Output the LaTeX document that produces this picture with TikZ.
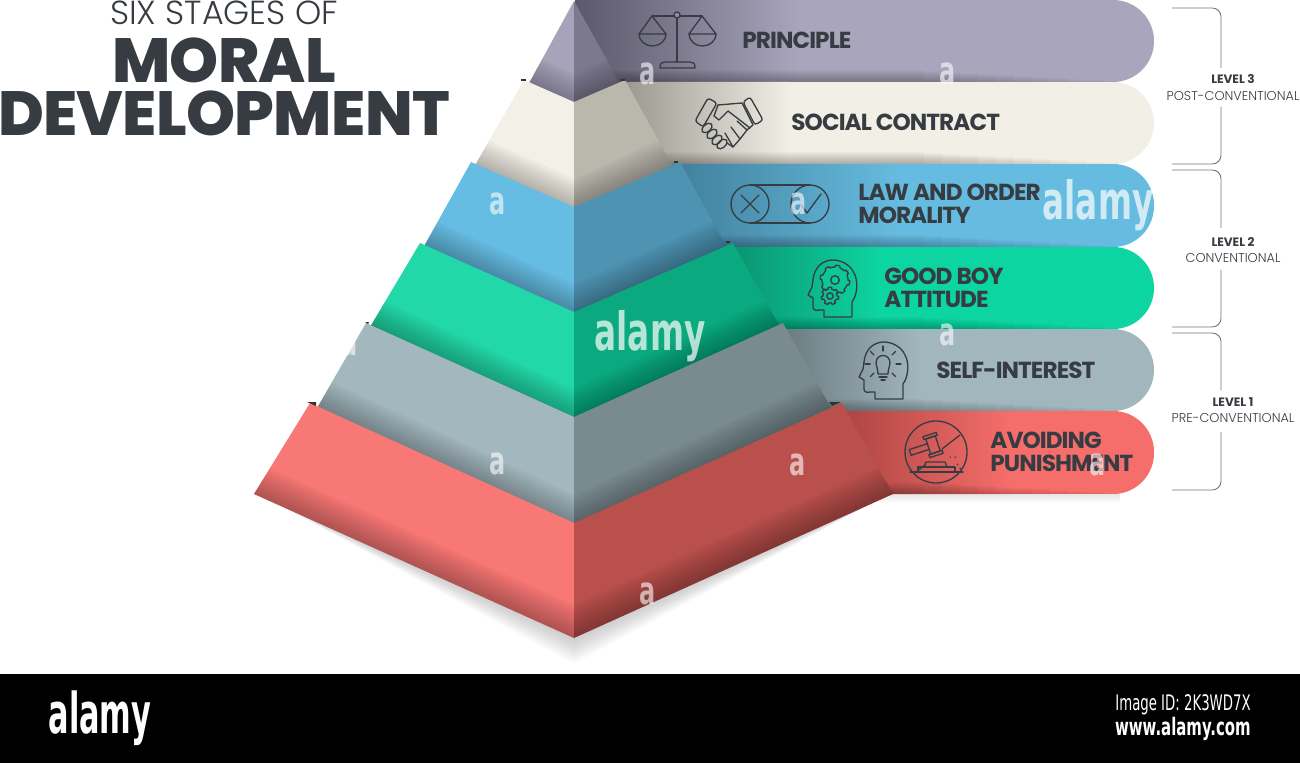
\documentclass[tikz,border=0pt]{standalone}
\usepackage{fontspec}
\usetikzlibrary{positioning}
\setmainfont{Poppins}
\newfontfamily\thinfont{Poppins}[UprightFont=* Light]
\newfontfamily\heavyfont{Poppins}[UprightFont=* ExtraBold, LetterSpace=-1]
\newfontfamily\stagefont{Poppins}[UprightFont=* Bold, LetterSpace=-4]
\newfontfamily\stampfont[FakeStretch=0.62]{DejaVu Sans}[BoldFont=* Bold]
\newfontfamily\logofont[FakeStretch=0.54]{DejaVu Sans}[BoldFont=* Bold]
\definecolor{ink}{HTML}{363C42}
\definecolor{purpleL}{HTML}{A6A3BA}
\definecolor{purpleR}{HTML}{7C798F}
\definecolor{purpleB}{HTML}{A9A5BD}
\definecolor{purpleD}{HTML}{5A586A}
\definecolor{creamL}{HTML}{F3F0E7}
\definecolor{creamR}{HTML}{BAB7AD}
\definecolor{creamB}{HTML}{F2EFE6}
\definecolor{creamD}{HTML}{8E8B82}
\definecolor{blueL}{HTML}{66BDE3}
\definecolor{blueR}{HTML}{4E93B2}
\definecolor{blueB}{HTML}{66BCE0}
\definecolor{blueD}{HTML}{3F7C98}
\definecolor{greenL}{HTML}{22D8A8}
\definecolor{greenR}{HTML}{0BA97F}
\definecolor{greenB}{HTML}{0DD5A1}
\definecolor{greenD}{HTML}{0A8F6C}
\definecolor{grayL}{HTML}{A3B7BE}
\definecolor{grayR}{HTML}{7A8B90}
\definecolor{grayB}{HTML}{A2B6BD}
\definecolor{grayD}{HTML}{66767B}
\definecolor{redL}{HTML}{F87876}
\definecolor{redR}{HTML}{B9504C}
\definecolor{redB}{HTML}{F56E6B}
\definecolor{redD}{HTML}{A8423F}
% one ribbon: start x, top, bottom, end of dark part, base colour, dark colour
\newcommand{\ribbon}[6]{
    \begin{scope}
    \clip (#1,#2) [rounded corners=23.3pt] -- (1154,#2) -- (1154,#3) [sharp corners] -- (#1,#3) -- cycle;
    \fill[#5] (#1,#2) rectangle (1154,#3);
    \shade[left color=#6, right color=#5] (#1,#2) rectangle (#4,#3);
    \foreach \k in {1,2,...,12} {
        \fill[black, opacity=.025] (#1,#3-\k) rectangle (1140-18*\k,#3);
    }
    \end{scope}
}
% one layer: left top x, left bottom x, right top x, right bottom x, top y, bottom y, centre top y, centre bottom y, colour
\newcommand{\pyrlayer}[9]{
    \fill[#9L] (#1,#5) -- (#2,#6+5) -- (574,#8+5) -- (574,#7) -- cycle;
    \fill[#9R] (#3,#5) -- (#4,#6+5) -- (574,#8+5) -- (574,#7) -- cycle;
    \begin{scope}
    \clip (#1,#5) -- (#2,#6+5) -- (574,#8+5) -- (#4,#6+5) -- (#3,#5) -- (574,#7) -- cycle;
    \foreach \k in {3,6,...,33} {
        \fill[black, opacity=.026] (#2,#6+5) -- (574,#8+5) -- (#4,#6+5) -- (#4,#6+5-\k) -- (574,#8+5-\k) -- (#2,#6+5-\k) -- cycle;
    }
    \end{scope}
}
% head outline of the two profile icons, from its top left corner
\newcommand{\headicon}[2]{
    \draw[icon, shift={(#1,#2)}] (44,57) -- (44,42) .. controls (50,34) and (50,20) .. (46,13) .. controls (42,4) and (32,0) .. (25,0) .. controls (14,0) and (6,8) .. (5,20) -- (4,27) -- (0,35) -- (5,38) -- (5,47) .. controls (5,50) and (8,51) .. (11,50) -- (16,50) -- (16,57) -- cycle;
}
% toothed wheel: x, y, radius, teeth, fill colour
\newcommand{\cogicon}[5]{
    \draw[icon, fill=#5, shift={(#1,#2)}] plot[domain=0:360, samples=97] (\x:{#3+1.8*(sin(#4*\x)>0)}) -- cycle;
}
% level bracket: top, end of upper part, start of lower part, bottom
\newcommand{\levelbracket}[4]{
    \draw[bracket] (1172,#1) -- (1221,#1) -- (1221,#2);
    \draw[bracket] (1221,#3) -- (1221,#4) -- (1172,#4);
}
\begin{document}
\begin{tikzpicture}[x=0.02cm, y=-0.02cm]
    % Define styles
    \tikzstyle{icon} = [draw=ink, line width=0.75pt, line join=round, line cap=round]
    \tikzstyle{bracket} = [draw=black!55, line width=0.5pt, rounded corners=5pt]
    \tikzstyle{stage} = [text=ink, font=\stagefont\fontsize{13.2}{13.4}\selectfont, align=left, inner sep=0pt]
    \tikzstyle{levelhead} = [text=ink, font=\bfseries\fontsize{6.9}{8}\selectfont, inner sep=0pt]
    \tikzstyle{levelname} = [text=ink, font=\thinfont\fontsize{7.3}{8}\selectfont, inner sep=0pt]
    \tikzstyle{stamp} = [text=white, text opacity=.6, font=\stampfont\bfseries\fontsize{22}{22}\selectfont, inner sep=0pt]
    \tikzstyle{stampbig} = [text=white, text opacity=.7, font=\stampfont\bfseries\fontsize{30}{30}\selectfont, inner sep=0pt]

    \useasboundingbox (0,0) rectangle (1300,763);

    % Title
    \node[text=ink, font=\thinfont\fontsize{19}{19}\selectfont, inner sep=0pt] (subtitle) at (224,13) {SIX STAGES OF};
    \node[text=ink, font=\heavyfont\fontsize{35.5}{35.5}\selectfont, inner sep=0pt] (moral) at (224,60) {MORAL};
    \node[text=ink, font=\heavyfont\fontsize{35.5}{35.5}\selectfont, inner sep=0pt] (development) at (224,113) {DEVELOPMENT};

    % Soft shadow under the pyramid
    \foreach \k in {2,4,...,26} {
        \fill[black, opacity=.016] (270,500) -- (574,638+\k) -- (878,500) -- cycle;
        \fill[black, opacity=.008] (880,490) rectangle (1120,494+\k/3);
    }

    % Right side - Ribbons
    \ribbon{575}{0}{82}{800}{purpleB}{purpleD}
    \ribbon{600}{82}{164}{790}{creamB}{creamD}
    \ribbon{660}{164}{247}{900}{blueB}{blueD}
    \ribbon{720}{247}{329}{880}{greenB}{greenD}
    \ribbon{770}{329}{411}{920}{grayB}{grayD}
    \ribbon{830}{411}{494}{1010}{redB}{redD}

    % Left side - Pyramid layers
    \pyrlayer{574}{528}{574}{621}{1}{80}{1}{102}{purple}
    \pyrlayer{524}{474}{625}{673}{80}{162}{102}{207}{cream}
    \pyrlayer{471}{423}{680}{727}{162}{243}{207}{312}{blue}
    \pyrlayer{420}{370}{733}{780}{243}{322}{312}{417}{green}
    \pyrlayer{366}{317}{783}{831}{323}{403}{417}{523}{gray}
    \pyrlayer{310}{254}{842}{893}{403}{489}{523}{633}{red}

    % Small dark corners
    \fill[black!80] (521,79) rectangle (526,81);
    \fill[black!80] (621,79) rectangle (625,81);
    \fill[black!80] (674,161) rectangle (678,163);
    \fill[black!80] (726,241) rectangle (730,243);
    \fill[black!80] (829,402) -- (841,402) -- (832,406) -- cycle;
    \fill[black!80] (307,402) -- (316,402) -- (316,406) -- cycle;
    \fill[black!80] (365,322) -- (369,322) -- (368,324) -- cycle;

    % Ribbon labels
    \node[stage, anchor=west] (principle) at (742,40) {PRINCIPLE};
    \node[stage, anchor=west] (contract) at (791,122) {SOCIAL CONTRACT};
    \node[stage, anchor=west] (law) at (858,204) {LAW AND ORDER\\MORALITY};
    \node[stage, anchor=west] (goodboy) at (884,288) {GOOD BOY\\ATTITUDE};
    \node[stage, anchor=west] (selfint) at (936,370) {SELF-INTEREST};
    \node[stage, anchor=west] (avoiding) at (990,452) {AVOIDING\\PUNISHMENT};

    % Scales
    \draw[icon] (652,16) -- (702,16) (677,18) -- (677,62);
    \draw[icon, fill=purpleB!70!purpleD] (677,15) circle (3);
    \draw[icon] (639,34) -- (652,16) -- (666,34) -- cycle;
    \draw[icon] (639,34) .. controls (640,50) and (665,50) .. (666,34);
    \draw[icon] (689,34) -- (702,16) -- (716,34) -- cycle;
    \draw[icon] (689,34) .. controls (690,50) and (715,50) .. (716,34);
    \draw[icon] (660,68) .. controls (660,63) and (662,62) .. (665,62) -- (690,62) .. controls (693,62) and (695,63) .. (695,68) -- cycle;

    % Handshake
    \draw[icon, rounded corners=1.5pt] (708,98) -- (717,103) -- (703,127) -- (695,121) -- cycle;
    \draw[icon, rounded corners=1.5pt] (750,97) -- (763,120) -- (755,125) -- (743,102) -- cycle;
    \draw[icon] (718,105) -- (742,103) -- (753,125) -- (747,130) -- (740,139) -- (733,147) -- (727,143);
    \draw[icon] (718,105) -- (714,116) -- (719,120) -- (728,111) -- (750,128);
    \draw[icon] (737,121) -- (747,130) (731,127) -- (740,139) (725,133) -- (733,147);
    \foreach \px/\py in {707/128,712/134,717/140,722/144} {
        \draw[icon, rotate around={40:(\px,\py)}] (\px,\py) ellipse (6 and 3.6);
    }

    % Toggle with cross and check
    \draw[icon] (750,204) circle (19) (810,204) circle (19);
    \draw[icon] (750,185) -- (810,185) (750,223) -- (810,223);
    \draw[icon] (741,195) -- (759,213) (759,195) -- (741,213);
    \draw[icon] (801,205) -- (807,213) -- (821,194);

    % Head with gears
    \headicon{808}{260}
    \cogicon{835}{280}{13}{8}{greenB!80!greenD}
    \draw[icon] (835,280) circle (4.3);
    \cogicon{830}{296}{7}{7}{greenB!70!greenD}
    \draw[icon] (830,296) circle (3.2);

    % Head with bulb
    \headicon{859}{342}
    \draw[icon] (878,374) .. controls (878,368) and (876,367) .. (876,363) .. controls (876,353) and (890,353) .. (890,363) .. controls (890,367) and (888,368) .. (888,374) -- cycle;
    \draw[icon] (879,377) -- (887,377) (881,380) -- (885,380);
    \foreach \a in {0,-45,-90,-135,180,45,135} {
        \draw[icon] ([shift={(883,364)}]\a:13) -- ([shift={(883,364)}]\a:18);
    }

    % Gavel inside the no sign
    \draw[icon] (936,452) circle (31);
    \draw[icon] (960,435) -- (942,449) (925,465) -- (915,473);
    \draw[icon] (910,472) -- (963,472);
    \draw[icon] (918,472) -- (918,467) -- (955,467) -- (955,472);
    \draw[icon] (924,467) -- (926,462) -- (945,462) -- (947,467);
    \draw[icon] (925.8,439) -- (935.3,435.8) -- (940.2,451) -- (930.7,454.2) -- cycle;
    \draw[icon] (922.9,436.7) -- (936.2,432.4) -- (937.2,435.2) -- (923.9,439.6) -- cycle;
    \draw[icon] (928.8,454.8) -- (942.1,450.4) -- (943.1,453.3) -- (929.8,457.6) -- cycle;
    \draw[icon] (927.3,443.7) -- (909.3,449.6) -- (911.1,455.3) -- (929.2,449.4);
    \draw[icon] (950,457) -- (950.5,457.5) (955,457) -- (955.5,457.5) (957,464) -- (958,465) (960,468) -- (960.5,469);

    % Level brackets
    \levelbracket{8}{68}{107}{164}
    \levelbracket{170}{228}{270}{327}
    \levelbracket{333}{390}{432}{490}
    \node[levelhead] (levelthree) at (1233,79) {LEVEL 3};
    \node[levelname] (postconv) at (1233,96) {POST-CONVENTIONAL};
    \node[levelhead] (leveltwo) at (1233,242) {LEVEL 2};
    \node[levelname] (conv) at (1233,258) {CONVENTIONAL};
    \node[levelhead] (levelone) at (1233,402) {LEVEL 1};
    \node[levelname] (preconv) at (1233,418) {PRE-CONVENTIONAL};

    % Stamps
    \foreach \px/\py [count=\i] in {648/74,948/74,498/204,799/204,350/345,948/335,498/464,798/465,1098/465,648/594} {
        \node[stamp] (mark\i) at (\px,\py) {a};
    }
    \node[stampbig] (stampone) at (650,336) {alamy};
    \node[stampbig] (stamptwo) at (1098,205) {alamy};

    % Footer
    \fill[black] (0,674) rectangle (1300,763);
    \node[text=white, font=\logofont\bfseries\fontsize{32}{32}\selectfont, inner sep=0pt] (footlogo) at (100,718) {alamy};
    \node[text=white, font=\stampfont\fontsize{12.2}{12.2}\selectfont, anchor=east, inner sep=0pt] (imageid) at (1251,705) {Image ID: 2K3WD7X};
    \node[text=white, font=\stampfont\bfseries\fontsize{13.7}{13.7}\selectfont, anchor=east, inner sep=0pt] (website) at (1251,729) {www.alamy.com};
\end{tikzpicture}
\end{document}
